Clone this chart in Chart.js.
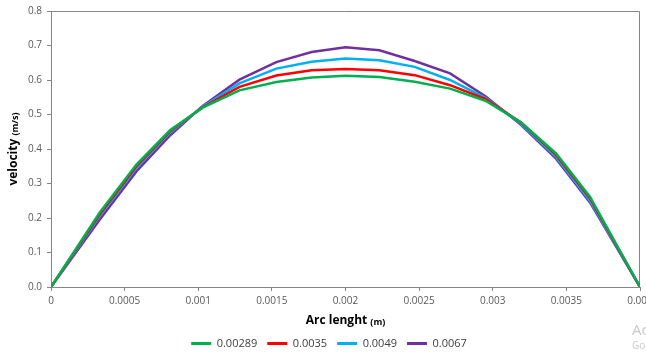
<!DOCTYPE html>
<html>
<head>
<meta charset="utf-8">
<script src="https://cdn.jsdelivr.net/npm/chart.js@4.4.1/dist/chart.umd.min.js"></script>
<style>
html,body{margin:0;padding:0;background:#fff;}
#wrap{width:646px;height:354px;}
</style>
</head>
<body>
<div id="wrap"><canvas id="c" width="646" height="354"></canvas></div>
<script>
// Arc length positions (m)
const arcLength = [0, 0.00033, 0.00058, 0.00081, 0.00103, 0.00128, 0.00153, 0.00177, 0.002, 0.00223, 0.00247, 0.00271, 0.00295, 0.00319, 0.00343, 0.00366, 0.004];
// Series labels
const seriesNames = ['0.00289', '0.0035', '0.0049', '0.0067'];
// Velocity values (m/s)
const v00289 = [0, 0.215, 0.355, 0.455, 0.520, 0.570, 0.594, 0.607, 0.612, 0.609, 0.595, 0.575, 0.540, 0.478, 0.387, 0.262, 0];
const v0035  = [0, 0.210, 0.350, 0.452, 0.521, 0.580, 0.613, 0.628, 0.632, 0.628, 0.614, 0.585, 0.545, 0.477, 0.383, 0.257, 0];
const v0049  = [0, 0.205, 0.345, 0.448, 0.523, 0.590, 0.633, 0.653, 0.662, 0.657, 0.638, 0.600, 0.548, 0.474, 0.377, 0.250, 0];
const v0067  = [0, 0.195, 0.335, 0.440, 0.525, 0.601, 0.652, 0.681, 0.695, 0.686, 0.655, 0.619, 0.553, 0.471, 0.372, 0.245, 0];
// Tick settings
const yTicks = [0, 0.1, 0.2, 0.3, 0.4, 0.5, 0.6, 0.7, 0.8];
const xTicks = [0, 0.0005, 0.001, 0.0015, 0.002, 0.0025, 0.003, 0.0035, 0.004];
const xTickLabels = ['0', '0.0005', '0.001', '0.0015', '0.002', '0.0025', '0.003', '0.0035', '0.004'];

const colors = ['#00B050', '#FF0000', '#00B0F0', '#7030A0'];
const seriesValues = [v00289, v0035, v0049, v0067];

const datasets = seriesNames.map((name, i) => ({
  label: name,
  data: arcLength.map((x, j) => ({x: x, y: seriesValues[i][j]})),
  showLine: true,
  borderColor: colors[i],
  backgroundColor: colors[i],
  borderWidth: 2.5,
  pointRadius: 0,
  tension: 0,
  fill: false
}));

const FONT = "'Open Sans', 'Liberation Sans', sans-serif";
const AXIS_GRAY = '#868686';

const frameAndTitles = {
  id: 'frameAndTitles',
  beforeDatasetsDraw(chart) {
    const {ctx, chartArea: a} = chart;
    ctx.save();
    ctx.strokeStyle = AXIS_GRAY;
    ctx.lineWidth = 1;
    ctx.beginPath();
    ctx.moveTo(Math.round(a.left) + 0.5, Math.round(a.top) + 0.5);
    ctx.lineTo(Math.round(a.right) - 0.5, Math.round(a.top) + 0.5);
    ctx.lineTo(Math.round(a.right) - 0.5, Math.round(a.bottom) + 0.5);
    ctx.stroke();
    ctx.restore();
  },
  afterDraw(chart) {
    const {ctx, chartArea: a} = chart;
    ctx.save();
    ctx.fillStyle = '#000000';
    ctx.textBaseline = 'middle';
    // X title
    const big = "bold 12px " + FONT, small = "bold 9px " + FONT;
    ctx.font = big; const w1 = ctx.measureText('Arc lenght ').width;
    ctx.font = small; const w2 = ctx.measureText('(m)').width;
    let cx = (a.left + a.right) / 2, cy = 321;
    let x0 = cx - (w1 + w2) / 2;
    ctx.textAlign = 'left';
    ctx.font = big; ctx.fillText('Arc lenght ', x0, cy);
    ctx.font = small; ctx.fillText('(m)', x0 + w1, cy + 1);
    // Y title
    ctx.translate(14, (a.top + a.bottom) / 2);
    ctx.rotate(-Math.PI / 2);
    ctx.font = big; const w3 = ctx.measureText('velocity ').width;
    ctx.font = small; const w4 = ctx.measureText('(m/s)').width;
    x0 = -(w3 + w4) / 2;
    ctx.font = big; ctx.fillText('velocity ', x0, 0);
    ctx.font = small; ctx.fillText('(m/s)', x0 + w3, 1);
    ctx.restore();
    // faint watermark at the corner
    ctx.save();
    ctx.fillStyle = '#c9c9c9';
    ctx.textAlign = 'left';
    ctx.textBaseline = 'middle';
    ctx.font = "15px " + FONT;
    ctx.fillText('Activate Windows', 632, 331);
    ctx.font = "10px " + FONT;
    ctx.fillText('Go to Settings to activate Windows.', 632, 346);
    ctx.restore();
  }
};

new Chart(document.getElementById('c'), {
  type: 'scatter',
  data: {datasets},
  options: {
    responsive: false,
    animation: false,
    layout: {padding: {left: 18, right: 6, top: 11, bottom: -5}},
    plugins: {
      legend: {
        position: 'bottom',
        labels: {
          boxWidth: 20,
          boxHeight: 3,
          padding: 10,
          color: '#404040',
          font: {family: FONT, size: 11},
          generateLabels(chart) {
            return chart.data.datasets.map((ds, i) => ({
              text: ds.label,
              fillStyle: ds.borderColor,
              strokeStyle: ds.borderColor,
              lineWidth: 0,
              fontColor: '#404040',
              datasetIndex: i,
              hidden: false
            }));
          }
        }
      },
      tooltip: {enabled: false},
      title: {display: false}
    },
    scales: {
      x: {
        type: 'linear',
        min: 0,
        max: 0.004,
        afterBuildTicks(s) { s.ticks = xTicks.map(v => ({value: v})); },
        afterFit(s) { s.height = 41; s.paddingLeft = 0; s.paddingRight = 0; },
        ticks: {
          color: '#595959',
          font: {family: FONT, size: 10},
          padding: 4,
          maxRotation: 0,
          autoSkip: false,
          callback: (v, i) => xTickLabels[i]
        },
        grid: {display: true, drawOnChartArea: false, drawTicks: true, tickLength: 4, color: AXIS_GRAY},
        border: {display: true, color: AXIS_GRAY, width: 1}
      },
      y: {
        type: 'linear',
        min: 0,
        max: 0.8,
        afterBuildTicks(s) { s.ticks = yTicks.map(v => ({value: v})); },
        afterFit(s) { s.width = 33; s.paddingTop = 0; s.paddingBottom = 0; },
        ticks: {
          color: '#595959',
          font: {family: FONT, size: 10},
          padding: 5,
          callback: (v) => Number(v).toFixed(1)
        },
        grid: {display: true, drawOnChartArea: false, drawTicks: true, tickLength: 4, color: AXIS_GRAY},
        border: {display: true, color: AXIS_GRAY, width: 1}
      }
    }
  },
  plugins: [frameAndTitles]
});
</script>
</body>
</html>
